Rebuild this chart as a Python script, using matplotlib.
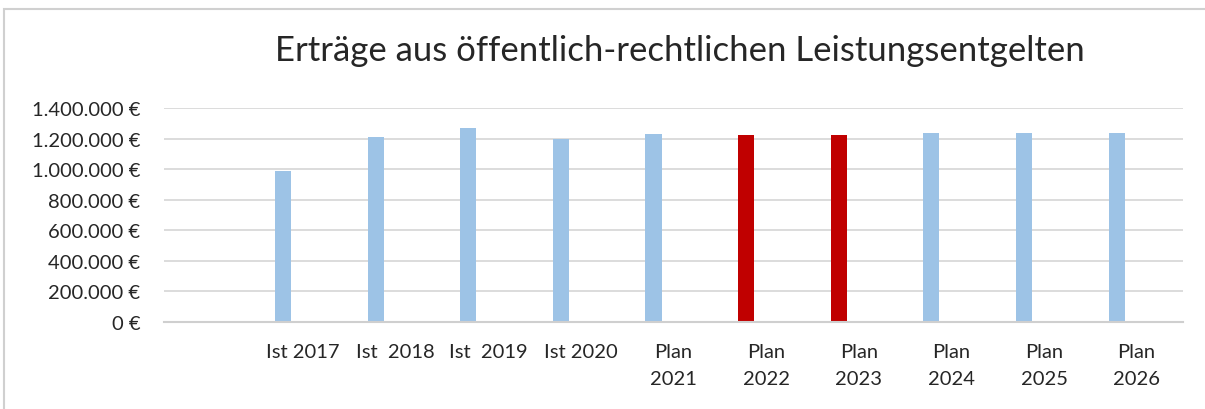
import matplotlib.pyplot as plt
from matplotlib.patches import Rectangle
from matplotlib.ticker import FuncFormatter

plt.rcParams["font.family"] = ["Lato", "DejaVu Sans"]

categories = ["", "Ist 2017", "Ist  2018", "Ist  2019", "Ist 2020", "Plan\n2021",
              "Plan\n2022", "Plan\n2023", "Plan\n2024", "Plan\n2025", "Plan\n2026"]
values = [None, 985000, 1211000, 1270000, 1195000, 1230000,
          1223000, 1223000, 1236000, 1236000, 1236000]
highlight = ["Plan\n2022", "Plan\n2023"]

blue = "#9DC3E6"
red = "#C00000"
grid_col = "#D9D9D9"

fig = plt.figure(figsize=(12.05, 4.10), dpi=100)
ax = fig.add_axes([164 / 1205, 87 / 410, (1183 - 164) / 1205, 214 / 410])

for i, (cat, val) in enumerate(zip(categories, values)):
    if val is None:
        continue
    col = red if cat in highlight else blue
    ax.bar(i - 0.216, val, width=0.173, color=col, zorder=3)

ax.set_xlim(-0.5, len(categories) - 0.5)
ax.set_ylim(0, 1400000)
ax.set_yticks(range(0, 1400001, 200000))
ax.yaxis.set_major_formatter(FuncFormatter(lambda v, p: f"{int(v):,} €".replace(",", ".")))
ax.set_xticks(range(len(categories)))
ax.set_xticklabels(categories, fontsize=14.5, color="#262626", linespacing=1.75)
ax.tick_params(axis="y", labelsize=14.5, labelcolor="#262626", length=0, pad=17)
ax.tick_params(axis="x", length=0, pad=15)

ax.grid(axis="y", color=grid_col, linewidth=1.3, zorder=0)
for s in ["top", "right", "left"]:
    ax.spines[s].set_visible(False)
ax.spines["bottom"].set_color("#CFCFCF")
ax.spines["bottom"].set_linewidth(1.5)
ax.spines["bottom"].set_zorder(4)

fig.text(680 / 1205, 1 - 51 / 410, "Erträge aus öffentlich-rechtlichen Leistungsentgelten",
         ha="center", va="center", fontsize=25, color="#262626")

# outer chart frame
fig.patches.append(Rectangle((4 / 1205, -0.1), 1.2, 1 - 9.5 / 410 + 0.1,
                             transform=fig.transFigure, fill=False,
                             edgecolor="#D0D0D0", linewidth=1.5))

fig.savefig("out.png", dpi=100)
